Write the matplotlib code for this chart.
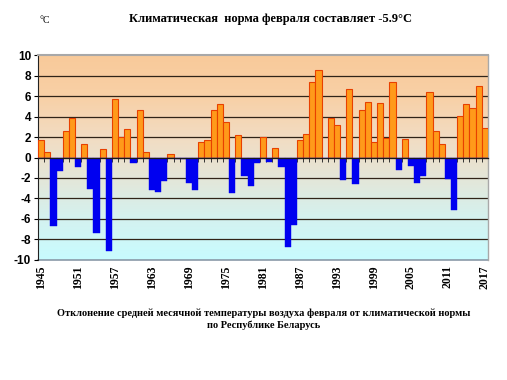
import matplotlib
matplotlib.use("Agg")
import matplotlib.pyplot as plt
from matplotlib.colors import LinearSegmentedColormap
import numpy as np

years = list(range(1945, 2018))
anomaly = [1.7, 0.5, -6.7, -1.3, 2.6, 3.9, -0.9, 1.3, -3.1, -7.4, 0.8, -9.1, 5.7,
           2.0, 2.8, -0.5, 4.6, 0.5, -3.2, -3.4, -2.3, 0.3, -0.1, -0.1, -2.5,
           -3.2, 1.5, 1.7, 4.6, 5.2, 3.5, -3.5, 2.2, -1.8, -2.8, -0.5, 2.0,
           -0.4, 0.9, -0.9, -8.7, -6.6, 1.7, 2.3, 7.4, 8.5, 0.0, 3.9, 3.2,
           -2.2, 6.7, -2.6, 4.6, 5.4, 1.5, 5.3, 1.9, 7.4, -1.2, 1.8, -0.8,
           -2.5, -1.8, 6.4, 2.6, 1.3, -2.1, -5.1, 4.1, 5.2, 4.8, 7.0, 2.9]
label_years = list(range(1945, 2018, 6))
yticks = list(range(-10, 11, 2))

title = "Климатическая  норма февраля составляет -5.9\u00b0C"
caption = ("Отклонение средней месячной температуры воздуха февраля от климатической нормы\n"
           "по Республике Беларусь")

fig = plt.figure(figsize=(5.07, 3.8), dpi=100)
ax = fig.add_axes([0.075, 0.316, 0.8875, 0.539])

# background gradient: peach at top, cyan at bottom
cmap = LinearSegmentedColormap.from_list(
    "bg", ["#c8fcff", "#d4f2f0", "#e4e6d8", "#f2dcc2", "#f8d0a6", "#f9ca9a"])
grad = np.linspace(0, 1, 256).reshape(-1, 1)
ax.imshow(grad, cmap=cmap, origin="lower", aspect="auto",
          extent=[1944.5, 2017.5, -10, 10], zorder=0)

pos = [v if v >= 0 else 0 for v in anomaly]
neg = [v if v < 0 else 0 for v in anomaly]
ax.bar(years, pos, width=1.0, color="#ff9a1a", edgecolor="#e84000",
       linewidth=0.8, zorder=3)
ax.bar(years, neg, width=1.0, color="#0000f0", edgecolor="#0000f0",
       linewidth=0.3, zorder=3)

for y in yticks:
    if y not in (0, 10, -10):
        ax.axhline(y, color="#302418", lw=0.9, zorder=1)

ax.set_xlim(1944.5, 2017.5)
ax.set_ylim(-10, 10)
ax.set_yticks(yticks)
ax.set_yticklabels([str(t) for t in yticks], fontfamily="Liberation Sans",
                   fontweight="bold", fontsize=8.5)
ax.tick_params(axis="y", direction="out", length=3, width=0.8, pad=2)

# zero axis with category ticks
ax.spines["bottom"].set_position(("data", 0))
ax.spines["bottom"].set_color("#1a1a1a")
ax.spines["bottom"].set_linewidth(0.9)
ax.spines["bottom"].set_zorder(4)
ax.set_xticks([y + 0.5 for y in years[:-1]])
ax.set_xticklabels([])
ax.tick_params(axis="x", direction="out", length=3, width=0.7, color="#333333")

ax.spines["top"].set_color("#a8a8a8")
ax.spines["top"].set_linewidth(1.5)
ax.spines["right"].set_color("#a8a8a8")
ax.spines["right"].set_linewidth(1.0)
ax.spines["left"].set_color("#222222")

sec = ax.secondary_xaxis(0.0)
sec.set_xticks(label_years)
sec.set_xticklabels([str(y) for y in label_years], rotation=90,
                    fontfamily="Liberation Serif", fontweight="bold", fontsize=8.5)
sec.tick_params(axis="x", length=0, pad=4)
sec.spines["bottom"].set_color("#8a9aa8")
sec.spines["bottom"].set_linewidth(1.2)

fig.text(0.533, 0.95, title, ha="center", va="center",
         fontfamily="Liberation Serif", fontweight="bold", fontsize=9)
fig.text(0.088, 0.947, "\u00b0C", ha="center", va="center",
         fontfamily="Liberation Serif", fontsize=7)
fig.text(0.52, 0.16, caption, ha="center", va="center", linespacing=1.25,
         fontfamily="Liberation Serif", fontweight="bold", fontsize=7.5)

fig.savefig("out.png", dpi=100)
